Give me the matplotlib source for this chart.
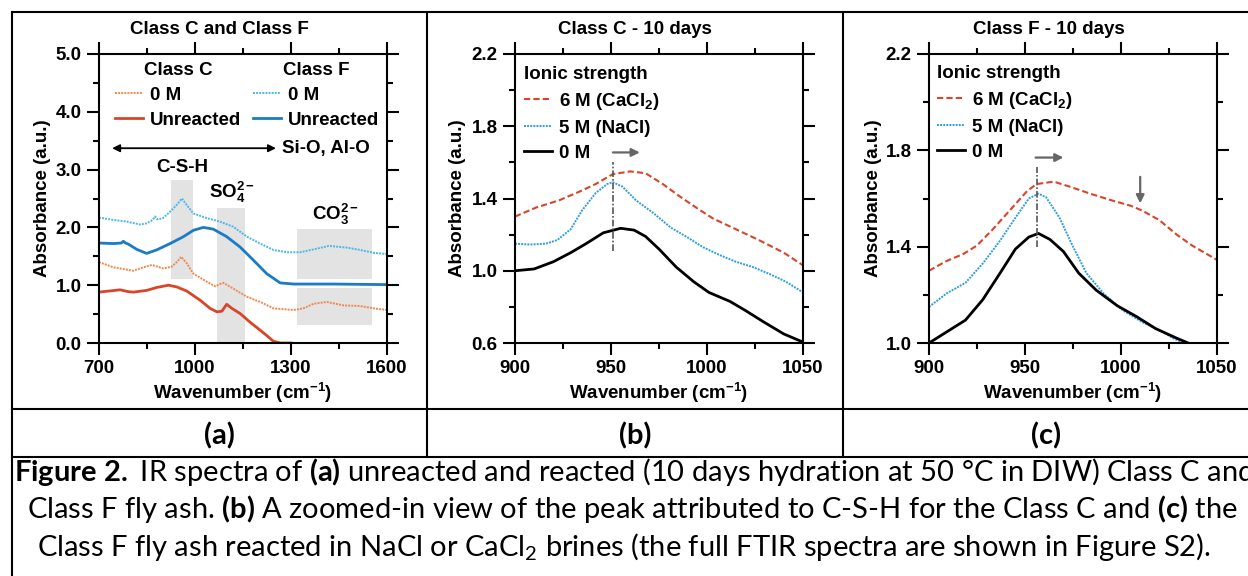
import matplotlib
matplotlib.use("Agg")
import matplotlib.pyplot as plt
from matplotlib.lines import Line2D
from matplotlib.patches import Rectangle
from matplotlib.ticker import FixedLocator, FormatStrFormatter

plt.rcParams['font.family'] = ['Liberation Sans', 'DejaVu Sans']
plt.rcParams['font.weight'] = 'bold'
plt.rcParams['axes.labelweight'] = 'bold'
plt.rcParams['mathtext.fontset'] = 'custom'
plt.rcParams['mathtext.rm'] = 'Lato'
plt.rcParams['mathtext.bf'] = 'Lato:bold'
plt.rcParams['mathtext.it'] = 'Lato:italic'

# ---------------- data: panel (a) ----------------
a_cf0_x = [700, 745, 787, 828, 849, 868, 875, 882, 900, 922, 943, 959, 974, 995, 1037, 1078,
           1120, 1162, 1204, 1245, 1287, 1329, 1371, 1418, 1475, 1516, 1558, 1600]
a_cf0_y = [2.17, 2.13, 2.10, 2.05, 2.07, 2.13, 2.19, 2.14, 2.16, 2.27, 2.39, 2.50, 2.39, 2.24,
           2.16, 2.10, 2.01, 1.84, 1.72, 1.61, 1.57, 1.57, 1.62, 1.68, 1.65, 1.61, 1.56, 1.54]

a_cfu_x = [700, 745, 770, 776, 783, 792, 818, 849, 880, 922, 964, 995, 1026, 1057, 1099,
           1141, 1183, 1224, 1266, 1308, 1434, 1600]
a_cfu_y = [1.73, 1.72, 1.73, 1.76, 1.73, 1.71, 1.62, 1.55, 1.61, 1.72, 1.84, 1.95, 2.00, 1.97,
           1.84, 1.66, 1.43, 1.20, 1.04, 1.02, 1.02, 1.01]

a_cc0_x = [700, 745, 807, 845, 865, 901, 927, 943, 957, 974, 995, 1037, 1063, 1078, 1089,
           1120, 1162, 1204, 1245, 1308, 1339, 1371, 1412, 1465, 1516, 1558, 1600]
a_cc0_y = [1.40, 1.31, 1.25, 1.32, 1.35, 1.29, 1.32, 1.40, 1.49, 1.38, 1.20, 1.06, 0.98, 1.02,
           1.04, 0.94, 0.80, 0.71, 0.60, 0.57, 0.60, 0.68, 0.71, 0.65, 0.64, 0.60, 0.57]

a_ccu_x = [700, 766, 790, 807, 849, 880, 917, 943, 974, 1016, 1047, 1068, 1084, 1099, 1115,
           1141, 1172, 1204, 1224, 1245, 1266, 1300]
a_ccu_y = [0.88, 0.92, 0.89, 0.88, 0.91, 0.96, 1.00, 0.97, 0.90, 0.74, 0.60, 0.54, 0.55, 0.67,
           0.60, 0.51, 0.36, 0.22, 0.13, 0.03, 0.0, 0.0]

# shaded bands (x0, x1, y0, y1)
a_bands = [(925, 993, 1.10, 2.82), (1070, 1157, 0.0, 2.33),
           (1319, 1553, 1.10, 1.97), (1319, 1553, 0.31, 0.95)]

# ---------------- data: panel (b) ----------------
b_ca_x = [900, 911, 923, 934, 942, 951, 960, 968, 977, 986, 995, 1003, 1015, 1027, 1040, 1050]
b_ca_y = [1.30, 1.35, 1.39, 1.44, 1.48, 1.535, 1.55, 1.54, 1.48, 1.41, 1.345, 1.29, 1.23,
          1.17, 1.10, 1.03]
b_na_x = [900, 908, 916, 922, 929, 935, 942, 948, 951, 956, 963, 972, 981, 989, 998, 1007,
          1015, 1024, 1033, 1041, 1050]
b_na_y = [1.15, 1.145, 1.15, 1.17, 1.23, 1.335, 1.43, 1.48, 1.49, 1.465, 1.39, 1.32, 1.24,
          1.19, 1.13, 1.085, 1.05, 1.02, 0.98, 0.94, 0.88]
b_0_x = [900, 910, 920, 929, 937, 946, 955, 962, 968, 975, 984, 993, 1001, 1012, 1020, 1029,
         1040, 1050]
b_0_y = [1.00, 1.01, 1.05, 1.10, 1.15, 1.21, 1.235, 1.225, 1.19, 1.12, 1.02, 0.94, 0.88, 0.83,
         0.78, 0.72, 0.65, 0.605]

# ---------------- data: panel (c) ----------------
c_ca_x = [900, 909, 918, 925, 933, 942, 951, 956, 965, 973, 984, 994, 1005, 1011, 1020, 1029,
          1037, 1050]
c_ca_y = [1.30, 1.34, 1.37, 1.405, 1.47, 1.55, 1.63, 1.66, 1.67, 1.65, 1.62, 1.595, 1.57, 1.55,
          1.51, 1.45, 1.405, 1.345]
c_na_x = [900, 909, 919, 928, 937, 945, 952, 957, 961, 968, 975, 982, 991, 1001, 1011, 1022,
          1027, 1033, 1040]
c_na_y = [1.15, 1.205, 1.25, 1.33, 1.425, 1.52, 1.60, 1.62, 1.605, 1.52, 1.40, 1.29, 1.205,
          1.135, 1.087, 1.045, 1.02, 1.0, 0.975]
c_0_x = [900, 909, 919, 928, 937, 945, 952, 957, 963, 970, 978, 987, 998, 1008, 1018, 1029,
         1035, 1040]
c_0_y = [1.00, 1.045, 1.095, 1.18, 1.29, 1.39, 1.44, 1.455, 1.43, 1.38, 1.29, 1.22, 1.155, 1.11,
         1.06, 1.02, 1.0, 0.985]

# ---------------- text ----------------
titles = ["Class C and Class F", "Class C - 10 days", "Class F - 10 days"]
panel_tags = ["(a)", "(b)", "(c)"]
caption = [
    r"$\mathbf{Figure\ 2.\ }$IR spectra of $\mathbf{(a)}$ unreacted and reacted (10 days hydration at 50 °C in DIW) Class C and",
    r"Class F fly ash. $\mathbf{(b)}$ A zoomed-in view of the peak attributed to C-S-H for the Class C and $\mathbf{(c)}$ the",
    r"Class F fly ash reacted in NaCl or CaCl$_\mathdefault{2}$ brines (the full FTIR spectra are shown in Figure S2).",
]

# ---------------- colours ----------------
RED = "#d8452a"
ORANGE = "#f0884e"
BLUE = "#1b7bc4"
LBLUE = "#4bb8e8"
NBLUE = "#2e9ee0"
GREY = "#666666"

W, H = 1248, 576
fig = plt.figure(figsize=(W / 100, H / 100), dpi=100)
FS = 13.5


def fx(px):
    return px / W


def fy(py):
    return 1 - py / H


def make_axes(left_px):
    ax = fig.add_axes([fx(left_px), fy(343), 288 / W, 289 / H])
    for s in ax.spines.values():
        s.set_linewidth(1.5)
    ax.tick_params(which='both', direction='out', top=True, right=True, width=1.5,
                   labelsize=FS, pad=4)
    ax.tick_params(which='major', length=8.5)
    ax.tick_params(which='minor', length=4.5)
    ax.yaxis.set_major_formatter(FormatStrFormatter('%.1f'))
    return ax


ylabel = "Absorbance (a.u.)"
xlabel = r"Wavenumber (cm$^\mathdefault{-1}$)"

# ---------- panel a ----------
ax = make_axes(99)
for x0, x1, y0, y1 in a_bands:
    ax.add_patch(Rectangle((x0, y0), x1 - x0, y1 - y0, facecolor="#e3e3e3", edgecolor='none', zorder=0))
l_cf0, = ax.plot(a_cf0_x, a_cf0_y, color=LBLUE, lw=1.4, ls=(0, (1, 0.6)))
l_cfu, = ax.plot(a_cfu_x, a_cfu_y, color=BLUE, lw=2.0)
l_cc0, = ax.plot(a_cc0_x, a_cc0_y, color=ORANGE, lw=1.4, ls=(0, (1, 0.6)))
l_ccu, = ax.plot(a_ccu_x, a_ccu_y, color=RED, lw=2.0)
ax.set_xlim(700, 1600)
ax.set_ylim(0, 5)
ax.xaxis.set_major_locator(FixedLocator([700, 1000, 1300, 1600]))
ax.xaxis.set_minor_locator(FixedLocator([850, 1150, 1450]))
ax.yaxis.set_major_locator(FixedLocator([0, 1, 2, 3, 4, 5]))
ax.yaxis.set_minor_locator(FixedLocator([0.5, 1.5, 2.5, 3.5, 4.5]))
ax.annotate('', xy=(741, 3.37), xytext=(1253, 3.37),
            arrowprops=dict(arrowstyle='<|-|>', color='black', lw=1.3,
                            mutation_scale=11, shrinkA=0, shrinkB=0))
ax.text(1272, 3.37, "Si-O, Al-O", fontsize=FS, va='center', ha='left')
ax.text(961, 3.03, "C-S-H", fontsize=FS, va='center', ha='center')
ax.text(1044, 2.61, r"SO$_\mathdefault{4}^\mathdefault{2-}$", fontsize=FS, va='center', ha='left')
ax.text(1366, 2.23, r"CO$_\mathdefault{3}^\mathdefault{2-}$", fontsize=FS, va='center', ha='left')
ax_a = ax

legkw = dict(frameon=False, fontsize=FS, handlelength=1.5, handletextpad=0.35,
             labelspacing=0.42, borderpad=0, borderaxespad=0,
             title_fontproperties={'weight': 'bold', 'size': FS})
lg1 = ax.legend([l_cc0, l_ccu], ["0 M", "Unreacted"], title="Class C", loc='upper left',
                bbox_to_anchor=(fx(115), fy(62)), bbox_transform=fig.transFigure, **legkw)
ax.add_artist(lg1)
lg2 = ax.legend([l_cf0, l_cfu], ["0 M", "Unreacted"], title="Class F", loc='upper left',
                bbox_to_anchor=(fx(253), fy(62)), bbox_transform=fig.transFigure, **legkw)

# ---------- panel b ----------
ax = make_axes(515)
lb1, = ax.plot(b_ca_x, b_ca_y, color=RED, lw=1.5, ls=(0, (3, 1.5)))
lb2, = ax.plot(b_na_x, b_na_y, color=NBLUE, lw=1.4, ls=(0, (1, 0.6)))
lb3, = ax.plot(b_0_x, b_0_y, color='black', lw=2.0)
ax.set_xlim(900, 1050)
ax.set_ylim(0.6, 2.2)
ax.xaxis.set_major_locator(FixedLocator([900, 950, 1000, 1050]))
ax.xaxis.set_minor_locator(FixedLocator([925, 975, 1025]))
ax.yaxis.set_major_locator(FixedLocator([0.6, 1.0, 1.4, 1.8, 2.2]))
ax.yaxis.set_minor_locator(FixedLocator([0.8, 1.2, 1.6, 2.0]))
ax.plot([951, 951], [1.11, 1.60], color="#555555", lw=1.2, ls=(0, (4, 1.2, 1, 1.2)))
ax.annotate('', xy=(965, 1.655), xytext=(951, 1.655),
            arrowprops=dict(arrowstyle='-|>', color=GREY, lw=1.6, mutation_scale=12,
                            shrinkA=0, shrinkB=0))
ax.legend([lb1, lb2, lb3], [r"6 M (CaCl$_\mathdefault{2}$)", "5 M (NaCl)", "0 M"],
          title="Ionic strength", alignment='left', loc='upper left',
          bbox_to_anchor=(fx(524), fy(66)), bbox_transform=fig.transFigure, **legkw)
ax_b = ax

# ---------- panel c ----------
ax = make_axes(929)
lc1, = ax.plot(c_ca_x, c_ca_y, color=RED, lw=1.5, ls=(0, (3, 1.5)))
lc2, = ax.plot(c_na_x, c_na_y, color=NBLUE, lw=1.4, ls=(0, (1, 0.6)))
lc3, = ax.plot(c_0_x, c_0_y, color='black', lw=2.0)
ax.set_xlim(900, 1050)
ax.set_ylim(1.0, 2.2)
ax.xaxis.set_major_locator(FixedLocator([900, 950, 1000, 1050]))
ax.xaxis.set_minor_locator(FixedLocator([925, 975, 1025]))
ax.yaxis.set_major_locator(FixedLocator([1.0, 1.4, 1.8, 2.2]))
ax.yaxis.set_minor_locator(FixedLocator([1.2, 1.6, 2.0]))
ax.plot([956, 956], [1.40, 1.73], color="#555555", lw=1.2, ls=(0, (4, 1.2, 1, 1.2)))
ax.annotate('', xy=(970, 1.77), xytext=(955.5, 1.77),
            arrowprops=dict(arrowstyle='-|>', color=GREY, lw=1.6, mutation_scale=12,
                            shrinkA=0, shrinkB=0))
ax.annotate('', xy=(1010, 1.58), xytext=(1010, 1.69),
            arrowprops=dict(arrowstyle='-|>', color=GREY, lw=1.6, mutation_scale=12,
                            shrinkA=0, shrinkB=0))
ax.legend([lc1, lc2, lc3], [r"6 M (CaCl$_\mathdefault{2}$)", "5 M (NaCl)", "0 M"],
          title="Ionic strength", alignment='left', loc='upper left',
          bbox_to_anchor=(fx(937), fy(65)), bbox_transform=fig.transFigure, **legkw)
ax_c = ax

# axis labels and titles (placed in figure pixel coordinates)
for axx, xl_cx, yl_x, t_cx, title in [(ax_a, 243, 43, 219, titles[0]),
                                      (ax_b, 659, 458, 635, titles[1]),
                                      (ax_c, 1073, 873, 1049, titles[2])]:
    fig.text(fx(xl_cx), fy(393), xlabel, fontsize=FS, ha='center', va='center', weight='bold')
    fig.text(fx(yl_x), fy(198), ylabel, fontsize=FS, ha='center', va='center',
             rotation=90, weight='bold')
    fig.text(fx(t_cx), fy(30), title, fontsize=FS, ha='center', va='center', weight='bold')

# table lines
def hline(y, x0, x1):
    fig.add_artist(Line2D([fx(x0), fx(x1)], [fy(y), fy(y)], color='black', lw=1.5,
                          transform=fig.transFigure))


def vline(x, y0, y1):
    fig.add_artist(Line2D([fx(x), fx(x)], [fy(y0), fy(y1)], color='black', lw=1.5,
                          transform=fig.transFigure))


hline(12, 12, W)
hline(409, 12, W)
hline(457, 12, W)
vline(12, 12, H)
vline(427, 12, 457)
vline(843, 12, 457)

# caption and panel tags
cap_x = [14, 27, 37]
cap_base = [481, 518, 556]
renderer = fig.canvas.get_renderer()
probe = fig.text(0, 0, caption[2], fontsize=17, family='Lato', weight='normal')
wpx = probe.get_window_extent(renderer).width
probe.remove()
cap_fs = 17 * (1211 - 37) / wpx

for t, cx in zip(panel_tags, [219.5, 635, 1046]):
    fig.text(fx(cx), fy(436), t, fontsize=cap_fs, family='Lato', weight='bold',
             ha='center', va='center')
for line, x0, yb in zip(caption, cap_x, cap_base):
    fig.text(fx(x0), fy(yb), line, fontsize=cap_fs, family='Lato', weight='normal',
             ha='left', va='baseline')

fig.savefig("out.png", dpi=100)
